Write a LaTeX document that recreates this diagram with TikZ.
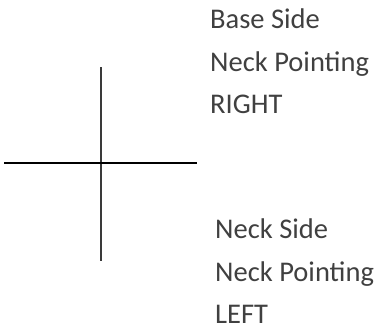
\documentclass[tikz,border=0pt]{standalone}
\usepackage{fontspec}
\setmainfont{Carlito}
\definecolor{txtgray}{HTML}{404040}
\definecolor{vgray}{HTML}{3A3A3A}
\begin{document}
\begin{tikzpicture}[x=1pt,y=1pt,
  lbl/.style={anchor=base west,inner sep=0pt,text=txtgray,font=\fontsize{28.5}{34}\selectfont},
  axis/.style={line width=1.3pt}]
\useasboundingbox (0,0) rectangle (381,-335);
\coordinate (vt) at (101,-67);
\coordinate (vb) at (101,-261);
\coordinate (hl) at (4,-163);
\coordinate (hr) at (197,-163);
\draw[axis,vgray] (vt) -- (vb);
\draw[axis,black] (hl) -- (hr);
\node[lbl] (b1) at (210,-28.5) {Base Side};
\node[lbl] (b2) at (210,-71) {Neck Pointing};
\node[lbl] (b3) at (210,-113.5) {RIGHT};
\node[lbl] (n1) at (215,-238.5) {Neck Side};
\node[lbl] (n2) at (215,-281) {Neck Pointing};
\node[lbl] (n3) at (215,-323.5) {LEFT};
\end{tikzpicture}
\end{document}
